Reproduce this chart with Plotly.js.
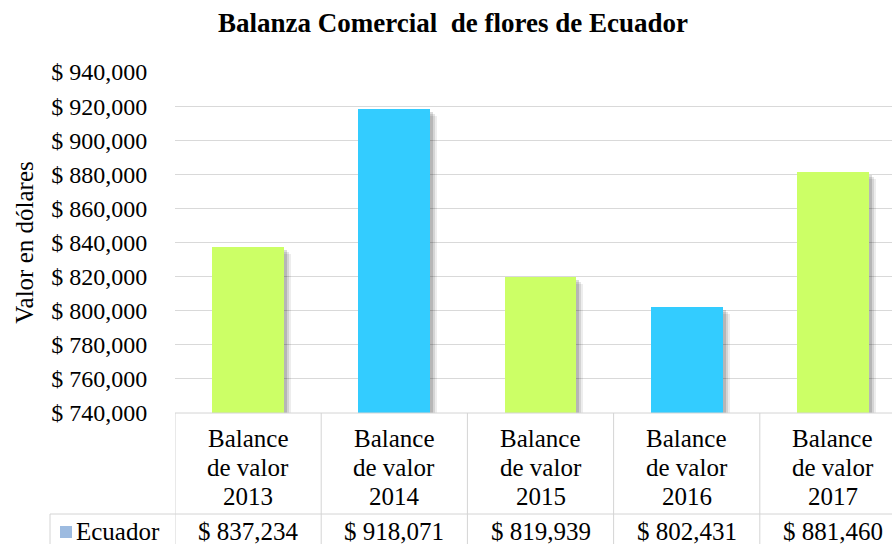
<!DOCTYPE html>
<html>
<head>
<meta charset="utf-8">
<script src="https://cdn.plot.ly/plotly-3.0.1.min.js"></script>
<style>
  html, body { margin: 0; padding: 0; background: #fff; overflow: hidden; }
  #chart { width: 892px; height: 544px; }
</style>
</head>
<body>
<div id="chart"></div>
<script>
// ---- data ----
const categories = ["Balance de valor 2013", "Balance de valor 2014", "Balance de valor 2015", "Balance de valor 2016", "Balance de valor 2017"];
const values = [837234, 918071, 819939, 802431, 881460];
const barColors = ["#CCFF66", "#33CCFF", "#CCFF66", "#33CCFF", "#CCFF66"];
const seriesName = "Ecuador";
const chartTitle = "Balanza Comercial  de flores de Ecuador";
const yTitle = "Valor en dólares";
const yMin = 740000, yMax = 940000, yStep = 20000;

// ---- layout geometry (pixels) ----
const W = 892, H = 544;
const plotL = 175, plotR = 892, plotT = 72, plotB = 413;
const catW = 146.2;
const plotW = plotR - plotL, plotH = plotB - plotT;
const xMax = -0.5 + plotW / catW;
const px2x = p => (p - plotL) / plotW;           // paper x
const py2y = p => (plotB - p) / plotH;           // paper y
const unitsPerPx = (yMax - yMin) / plotH;

const serif = "Liberation Serif";
const xs = values.map((v, i) => i);
const fmt = v => "$ " + v.toLocaleString("en-US");

const traces = [];
// soft shadow layers
[[7, 0.07], [5, 0.10], [3, 0.14]].forEach(([d, op]) => {
  traces.push({
    type: "bar", x: xs, y: values.map(v => v - yMin - d * unitsPerPx), base: yMin,
    width: 0.49, offset: -0.245 + d / catW,
    marker: { color: "rgba(0,0,0," + op + ")", line: { width: 0 } },
    hoverinfo: "skip", showlegend: false
  });
});
traces.push({
  type: "bar", name: seriesName, x: xs, y: values.map(v => v - yMin), base: yMin,
  width: 0.49, offset: -0.245,
  marker: { color: barColors, line: { width: 0 } },
  showlegend: false
});

const lineCol = "#d4d4d4";
const shapes = [];
shapes.push({ type: "line", xref: "paper", yref: "paper", x0: 0, x1: 1, y0: 0, y1: 0, line: { color: lineCol, width: 1 } });
for (let i = 0; i < categories.length; i++) {
  shapes.push({ type: "line", xref: "x", yref: "paper", x0: i - 0.5, x1: i - 0.5, y0: 0, y1: py2y(H + 5), line: { color: lineCol, width: 1 } });
}
shapes.push({ type: "line", xref: "paper", yref: "paper", x0: px2x(50), x1: 1, y0: py2y(514), y1: py2y(514), line: { color: lineCol, width: 1 } });
shapes.push({ type: "line", xref: "paper", yref: "paper", x0: px2x(50), x1: px2x(50), y0: py2y(514), y1: py2y(H + 5), line: { color: lineCol, width: 1 } });
shapes.push({ type: "rect", xref: "paper", yref: "paper", x0: px2x(60), x1: px2x(72), y0: py2y(538), y1: py2y(526), fillcolor: "#9DBBE0", line: { width: 0 } });

const annotations = [];
const lineY = [437, 466, 495];
categories.forEach((c, i) => {
  const m = c.match(/^(\S+)\s+(.+)\s+(\S+)$/);
  const parts = [m[1], m[2], m[3]];
  parts.forEach((t, k) => {
    annotations.push({ xref: "x", yref: "paper", x: i, y: py2y(lineY[k] + 1), text: t, showarrow: false,
      xanchor: "center", yanchor: "middle", font: { family: serif, size: 25, color: "#000" } });
  });
  annotations.push({ xref: "x", yref: "paper", x: i, y: py2y(531), text: fmt(values[i]), showarrow: false,
    xanchor: "center", yanchor: "middle", font: { family: serif, size: 25, color: "#000" } });
});
annotations.push({ xref: "paper", yref: "paper", x: px2x(74), y: py2y(531), text: seriesName, showarrow: false,
  xanchor: "left", yanchor: "middle", font: { family: serif, size: 25, color: "#000" } });

const layout = {
  width: W, height: H,
  margin: { l: plotL, r: W - plotR, t: plotT, b: H - plotB, pad: 0 },
  paper_bgcolor: "#fff", plot_bgcolor: "#fff",
  font: { family: serif },
  title: { text: "<b>" + chartTitle + "</b>", xref: "container", yref: "container", x: 453 / W, y: 1 - 23 / H,
    xanchor: "center", yanchor: "middle", font: { family: serif, size: 27, color: "#000" } },
  xaxis: { range: [-0.5, xMax], showgrid: false, zeroline: false, showticklabels: false, showline: false, ticks: "", fixedrange: true },
  yaxis: { range: [yMin, yMax], dtick: yStep, tick0: yMin, tickformat: ",d", tickprefix: "$ ",
    showgrid: true, gridcolor: "#d9d9d9", gridwidth: 1, zeroline: false, showline: false,
    ticks: "outside", ticklen: 22, tickcolor: "rgba(0,0,0,0)",
    tickfont: { family: serif, size: 24, color: "#000" },
    title: { text: yTitle, standoff: 10, font: { family: serif, size: 25, color: "#000" } } },
  barmode: "overlay", bargap: 0,
  shapes: shapes, annotations: annotations, showlegend: false
};

Plotly.newPlot("chart", traces, layout, { displayModeBar: false, staticPlot: true });
</script>
</body>
</html>
